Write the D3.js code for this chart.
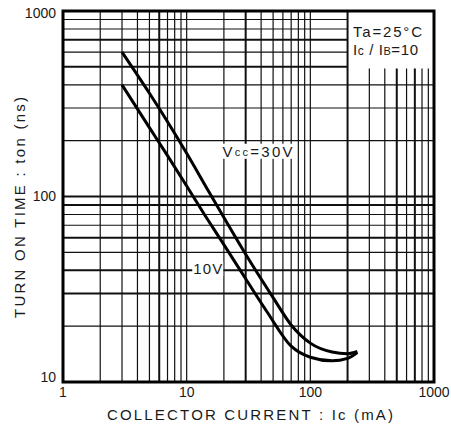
<!DOCTYPE html>
<html>
<head>
<meta charset="utf-8">
<script src="https://cdn.jsdelivr.net/npm/d3@7"></script>
<style>
  html, body { margin: 0; padding: 0; background: #fff; }
  svg { display: block; }
  text { font-family: "Liberation Sans", Arial, Helvetica, sans-serif; fill: #1a1a1a; }
</style>
</head>
<body>
<svg id="chart" width="451" height="430"></svg>
<script>
// ---- data ----
const xTickLabels = [1, 10, 100, 1000];
const yTickLabels = [10, 100, 1000];
const xDomain = [1, 1000];
const yDomain = [10, 1000];

// Vcc = 30V
const ic30  = [3, 5, 7, 10, 15, 20, 30, 50, 70, 100, 150, 200, 240];
const ton30 = [600, 360, 253, 171, 107, 77, 48.8, 28.5, 20.3, 16.2, 14.5, 14.2, 14.6];
// Vcc = 10V
const ic10  = [3, 5, 7, 10, 15, 20, 30, 45, 70, 100, 150, 200, 240];
const ton10 = [400, 235, 166, 114, 74, 55, 36, 23.7, 15.6, 13.6, 13.0, 13.4, 14.4];

const seriesNames = ["Vcc=30V", "10V"];
const condition1 = "Ta=25°C";
const xTitle = "COLLECTOR CURRENT : Ic (mA)";
const yTitle = "TURN ON TIME : ton (ns)";

// emphasised grid lines (as in the printed sheet)
const boldGridX = [6, 30, 200, 500, 700];
const boldGridY = [700, 500, 100, 90, 60, 40, 30];

// ---- layout ----
const svg = d3.select("#chart");
const L = 63, R = 434, T = 11, B = 382;
const x = d3.scaleLog().domain(xDomain).range([L, R]);
const y = d3.scaleLog().domain(yDomain).range([B, T]);

function logGrid(domain) {
  const out = [];
  for (let e = Math.log10(domain[0]); e < Math.log10(domain[1]); e++) {
    for (let m = 1; m <= 9; m++) out.push(m * Math.pow(10, e));
  }
  return out.filter(v => v > domain[0] && v < domain[1]);
}

const boxX = 200;   // legend box: right of 200 mA
const boxY = 490;   // above 490 ns

const g = svg.append("g");

// vertical grid
logGrid(xDomain).forEach(v => {
  const top = v > boxX ? y(boxY) : T;
  g.append("line")
    .attr("x1", x(v)).attr("x2", x(v))
    .attr("y1", top).attr("y2", B)
    .attr("stroke", "#111")
    .attr("stroke-width", boldGridX.includes(v) ? 2 : 1.2);
});
// horizontal grid
logGrid(yDomain).forEach(v => {
  const right = v > boxY ? x(boxX) : R;
  g.append("line")
    .attr("x1", L).attr("x2", right)
    .attr("y1", y(v)).attr("y2", y(v))
    .attr("stroke", "#111")
    .attr("stroke-width", boldGridY.includes(v) ? 2 : 1.2);
});

// curves
const line = d3.line()
  .x(d => x(d[0])).y(d => y(d[1]))
  .curve(d3.curveMonotoneX);

const s30 = ic30.map((v, i) => [v, ton30[i]]);
const s10 = ic10.map((v, i) => [v, ton10[i]]);

[s30, s10].forEach(s => {
  g.append("path").attr("d", line(s))
    .attr("fill", "none").attr("stroke", "#000")
    .attr("stroke-width", 3).attr("stroke-linejoin", "round");
});

// series labels with white backing
function label(parts, xv, yv, len) {
  const t = g.append("text")
    .attr("x", x(xv)).attr("y", y(yv))
    .attr("font-size", 15)
    .attr("dominant-baseline", "middle")
    .attr("textLength", len).attr("lengthAdjust", "spacing");
  parts.forEach(p => {
    const ts = t.append("tspan").text(p[0]);
    if (p[1]) ts.attr("font-size", p[1]);
  });
  const bb = t.node().getBBox();
  g.insert("rect", "text")
    .attr("x", bb.x - 1).attr("y", bb.y + 1)
    .attr("width", bb.width + 2).attr("height", bb.height - 2)
    .attr("fill", "#fff");
  return t;
}
label([["V"], ["cc", 11], ["=30V"]], 19.5, 172, 70);
label([[seriesNames[1]]], 11.3, 40, 29);

// frame
g.append("rect")
  .attr("x", L).attr("y", T)
  .attr("width", R - L).attr("height", B - T)
  .attr("fill", "none").attr("stroke", "#000").attr("stroke-width", 3);

// condition text
g.append("text").attr("x", 353).attr("y", 37)
  .attr("font-size", 15)
  .attr("textLength", 69).attr("lengthAdjust", "spacing")
  .text(condition1);
const c2 = g.append("text").attr("x", 353).attr("y", 55).attr("font-size", 15)
  .attr("textLength", 65).attr("lengthAdjust", "spacing");
c2.append("tspan").text("I");
c2.append("tspan").attr("font-size", 12).text("c");
c2.append("tspan").text(" / I");
c2.append("tspan").attr("font-size", 11).text("B");
c2.append("tspan").text("=10");

// tick labels
xTickLabels.forEach(v => {
  g.append("text")
    .attr("x", x(v)).attr("y", 397)
    .attr("font-size", 14).attr("text-anchor", "middle")
    .text(d3.format("d")(v));
});
const yLabelOffsets = { 10: -4, 100: 1, 1000: 3 };
yTickLabels.forEach(v => {
  g.append("text")
    .attr("x", 56).attr("y", y(v) + yLabelOffsets[v])
    .attr("font-size", 14).attr("text-anchor", "end")
    .attr("dominant-baseline", "middle")
    .text(d3.format("d")(v));
});

// axis titles
g.append("text")
  .attr("x", 107).attr("y", 420)
  .attr("font-size", 15)
  .attr("textLength", 286).attr("lengthAdjust", "spacing")
  .text(xTitle);

g.append("text")
  .attr("transform", "translate(25,318) rotate(-90)")
  .attr("font-size", 15)
  .attr("textLength", 221).attr("lengthAdjust", "spacing")
  .text(yTitle);
</script>
</body>
</html>
